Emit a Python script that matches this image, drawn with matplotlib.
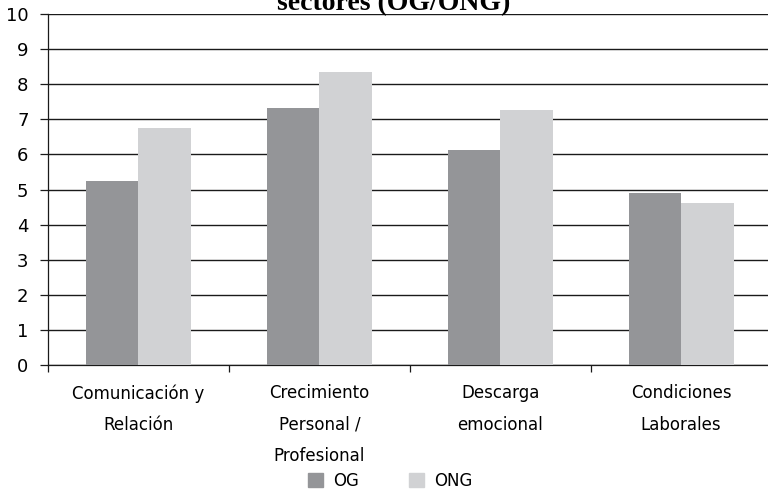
import matplotlib.pyplot as plt
import numpy as np
from matplotlib.patches import Patch

categories = ["Comunicación y\nRelación", "Crecimiento\nPersonal /\nProfesional",
              "Descarga\nemocional", "Condiciones\nLaborales"]
og = [5.24, 7.32, 6.12, 4.90]
ong = [6.75, 8.35, 7.26, 4.61]
series_names = ["OG", "ONG"]
title = "sectores (OG/ONG)"

NARROW = ["Liberation Sans Narrow", "DejaVu Sans Condensed", "DejaVu Sans"]
plt.rcParams["font.family"] = NARROW

fig = plt.figure(figsize=(7.68, 4.94), dpi=100)
ax = fig.add_axes([0.0625, 0.261, 0.9375, 0.7107])

x = np.arange(len(categories))
w = 0.29
ax.bar(x - w / 2, og, width=w, color="#949598", zorder=3)
ax.bar(x + w / 2, ong, width=w, color="#d1d2d4", zorder=3)

ax.set_ylim(0, 10)
ax.set_xlim(-0.5, 3.48)
ax.set_yticks(np.arange(0, 11, 1))
ax.yaxis.grid(True, color="#1a1a1a", linewidth=1.0, zorder=1)
ax.set_axisbelow(True)
ax.tick_params(axis="y", length=6, width=0.9, color="#1a1a1a", labelsize=13, pad=8)

ax.set_xticks(x)
ax.set_xticklabels([])
ax.set_xticks(np.arange(-0.5, 3.5, 1), minor=True)
ax.tick_params(axis="x", which="major", length=0)
ax.tick_params(axis="x", which="minor", length=5, width=0.9, color="#1a1a1a")

for i, lab in enumerate(categories):
    ax.text(i, -0.55, lab, ha="center", va="top", fontsize=12,
            linespacing=1.95, transform=ax.transData, clip_on=False)

for s in ["top", "right"]:
    ax.spines[s].set_visible(False)
for s in ["left", "bottom"]:
    ax.spines[s].set_color("#1a1a1a")
    ax.spines[s].set_linewidth(0.9)

# title: only its last line shows, the rest falls above the image as in the source
fig.text(394, 494 - 10, title, transform=None, ha="center", va="baseline",
         fontsize=20, fontweight="bold", family="Liberation Serif")

handles = [Patch(color="#949598"), Patch(color="#d1d2d4")]
fig.legend(handles, series_names, loc="center", bbox_to_anchor=(0.508, 0.026),
           ncol=2, frameon=False, fontsize=12, handlelength=0.9, handleheight=0.9,
           columnspacing=3.0, handletextpad=0.6)

fig.savefig("out.png", dpi=100)
